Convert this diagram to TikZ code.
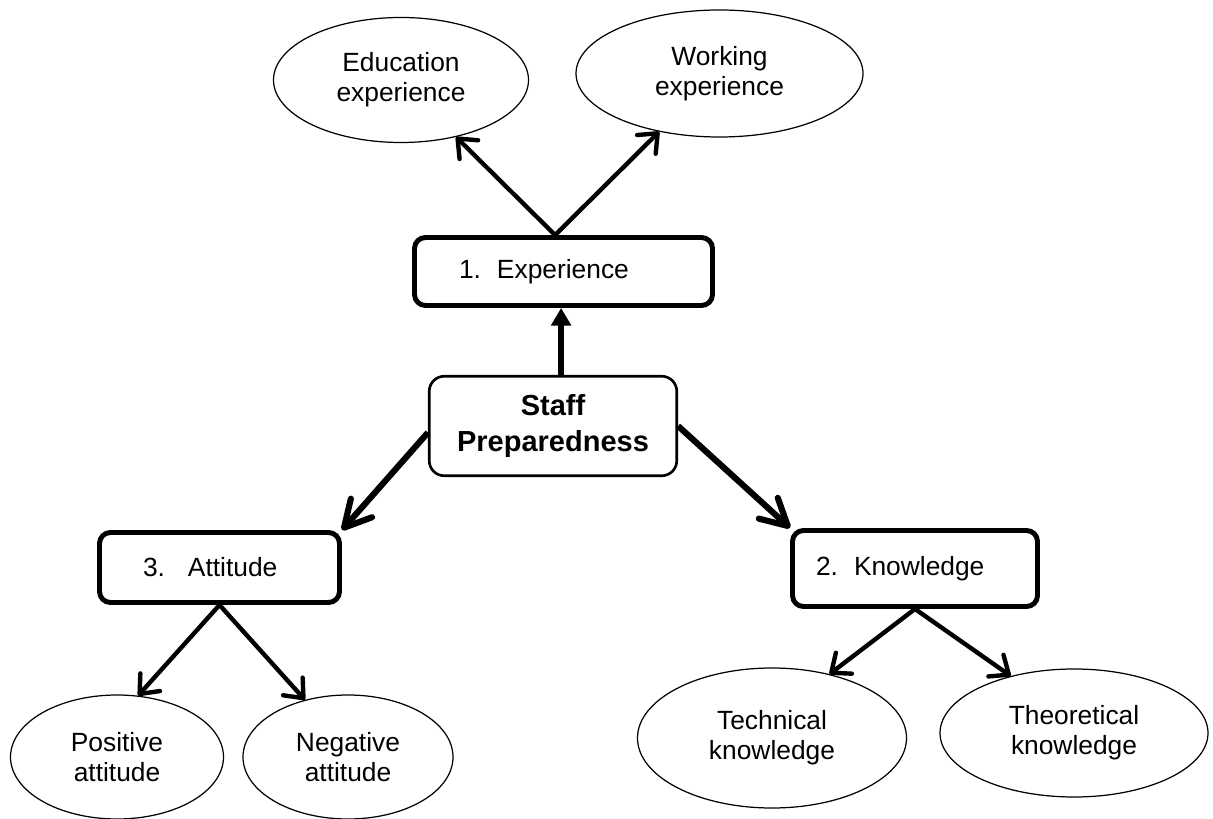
\documentclass[tikz,border=0pt]{standalone}
\usepackage{fontspec}
\setmainfont{Liberation Sans}
\usepackage{tikz}
\usetikzlibrary{shapes.geometric, arrows.meta, positioning, calc}

\begin{document}
\begin{tikzpicture}[
    leaf/.style={draw, ellipse, line width=0.7pt, inner sep=0pt, align=center, font=\fontsize{15}{17}\selectfont},
    subbox/.style={draw, line width=2.8pt, rounded corners=0.22cm, align=left, inner ysep=0pt, font=\fontsize{15}{17}\selectfont},
    corebox/.style={draw, line width=1.5pt, rounded corners=0.3cm, align=center, inner sep=0pt, font=\fontsize{16.5}{20.5}\selectfont\bfseries},
    smallarrow/.style={line width=2.5pt, -{Straight Barb[length=9pt, width=15pt, round]}},
    bigarrow/.style={line width=3.5pt, -{Straight Barb[length=15pt, width=16pt, round]}},
    uparrow/.style={line width=3.2pt, -{Triangle[length=10pt, width=11pt]}}
]
    \useasboundingbox (0,0) rectangle (24.26,-16.38);
    \node[corebox, minimum width=4.95cm, minimum height=1.99cm] (staff) at (11.06,-8.52) {Staff\\Preparedness};
    \node[subbox, minimum width=5.96cm, minimum height=1.36cm, text width=4.18cm, inner xsep=0.89cm] (exp) at (11.27,-5.43) {\makebox[0.76cm][l]{1.}Experience};
    \node[subbox, minimum width=4.8cm, minimum height=1.4cm, text width=3.06cm, inner xsep=0.87cm] (att) at (4.39,-11.35) {\makebox[0.9cm][l]{3.}Attitude};
    \node[subbox, minimum width=4.9cm, minimum height=1.52cm, text width=3.96cm, inner xsep=0.47cm] (know) at (18.3,-11.37) {\makebox[0.76cm][l]{2.}Knowledge};
    \node[leaf, minimum width=5.1cm, minimum height=2.5cm] (edu) at (8.02,-1.6) {Education\\experience};
    \node[leaf, minimum width=5.74cm, minimum height=2.54cm] (work) at (14.39,-1.47) {Working\\experience};
    \node[leaf, minimum width=4.26cm, minimum height=2.48cm] (pos) at (2.34,-15.14) {Positive\\attitude};
    \node[leaf, minimum width=4.2cm, minimum height=2.48cm] (neg) at (6.96,-15.14) {Negative\\attitude};
    \node[leaf, minimum width=5.38cm, minimum height=2.8cm] (tech) at (15.44,-14.76) {Technical\\knowledge};
    \node[leaf, minimum width=5.36cm, minimum height=2.56cm] (theo) at (21.48,-14.66) {Theoretical\\knowledge};
    \draw[smallarrow] (exp.103) -- (edu.-46);
    \draw[smallarrow] (exp.103) -- (work.-136);
    \draw[uparrow] (staff.81) -- (staff.81 |- exp.south);
    \draw[bigarrow] (staff.183) -- (att.north east);
    \draw[bigarrow] (staff.east) -- (know.north west);
    \draw[smallarrow] (att.south) -- (pos.71);
    \draw[smallarrow] (att.south) -- (neg.127);
    \draw[smallarrow] (know.south) -- (tech.48);
    \draw[smallarrow] (know.south) -- (theo.138);
\end{tikzpicture}
\end{document}
